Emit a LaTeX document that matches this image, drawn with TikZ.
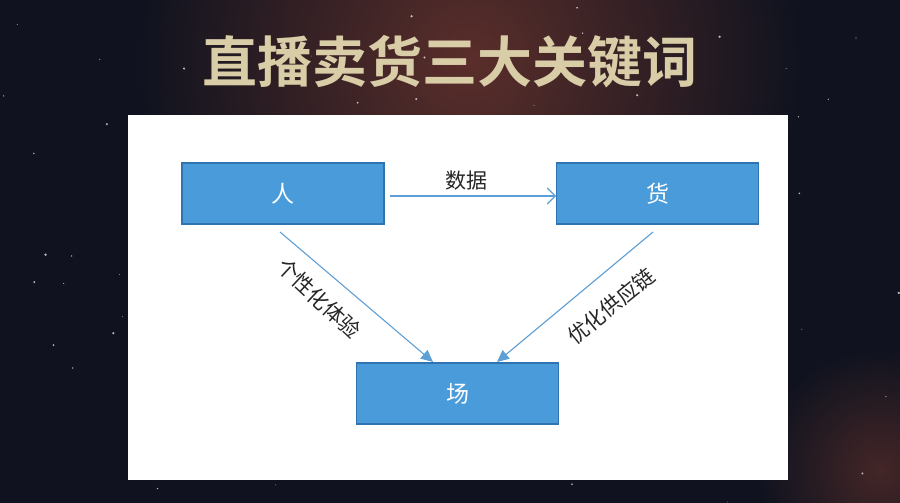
\documentclass[tikz,border=0pt]{standalone}
\usepackage{fontspec}
\newfontfamily\cjk{Noto Sans CJK SC}
\newfontfamily\cjkb{Noto Sans CJK SC Bold}
\usetikzlibrary{arrows.meta}
\definecolor{boxfill}{HTML}{4A9BDA}
\definecolor{boxline}{HTML}{2F74B0}
\definecolor{arrowc}{HTML}{5E9FD6}
\definecolor{titlec}{HTML}{D9CDA8}
\definecolor{bgdark}{HTML}{10131F}
\definecolor{glow}{HTML}{5A2E2A}
\tikzset{
  keybox/.style={draw=boxline, line width=1.6pt, fill=boxfill, minimum width=202pt, minimum height=61pt, inner sep=0pt, text=white, font=\cjk\fontsize{23}{23}\selectfont},
  link/.style={draw=arrowc, line width=1.1pt},
  lbl/.style={font=\cjk\fontsize{21}{21}\selectfont, text=black!85, inner sep=0pt}
}
\begin{document}
\begin{tikzpicture}[x=1pt,y=-1pt]
\useasboundingbox (0,0) rectangle (900,503);
% background
\fill[bgdark] (0,0) rectangle (900,503);
\begin{scope}
\clip (0,0) rectangle (900,503);
\shade[inner color=glow, outer color=bgdark] (470,60) circle (330);
\shade[inner color=glow!70!bgdark, outer color=bgdark] (880,470) circle (120);
\pgfmathsetseed{7}
\foreach \i in {1,...,70}{
  \pgfmathsetmacro{\sx}{900*rnd}
  \pgfmathsetmacro{\sy}{503*rnd}
  \pgfmathsetmacro{\sr}{0.4+0.9*rnd}
  \fill[white, opacity=0.7] (\sx,\sy) circle (\sr);
}
\end{scope}
% title
\node[text=titlec, font=\cjkb\fontsize{55}{55}\selectfont, inner sep=0pt] (title) at (450,62) {直播卖货三大关键词};
% panel
\fill[white] (128,115) rectangle (788,480);
% boxes
\node[keybox] (ren) at (283,193.5) {人};
\node[keybox] (huo) at (657.5,193.5) {货};
\node[keybox] (chang) at (457.5,393.5) {场};
% connectors
\coordinate (a1) at (390,196);
\coordinate (a2) at (556,196);
\draw[link, -{Straight Barb[length=8pt,width=16pt,line width=1.1pt]}] (a1) -- (a2);
\node[lbl] (shuju) at (466,181) {数据};
\coordinate (l1) at (280,232);
\coordinate (l2) at (433,362);
\draw[link, -{Triangle[length=12pt,width=11pt]}] (l1) -- (l2);
\coordinate (r1) at (653,232);
\coordinate (r2) at (497,362);
\draw[link, -{Triangle[length=12pt,width=11pt]}] (r1) -- (r2);
\node[lbl, rotate=-43] (gx) at (319,298.5) {个性化体验};
\node[lbl, rotate=39] (yh) at (611,306) {优化供应链};
\end{tikzpicture}
\end{document}
